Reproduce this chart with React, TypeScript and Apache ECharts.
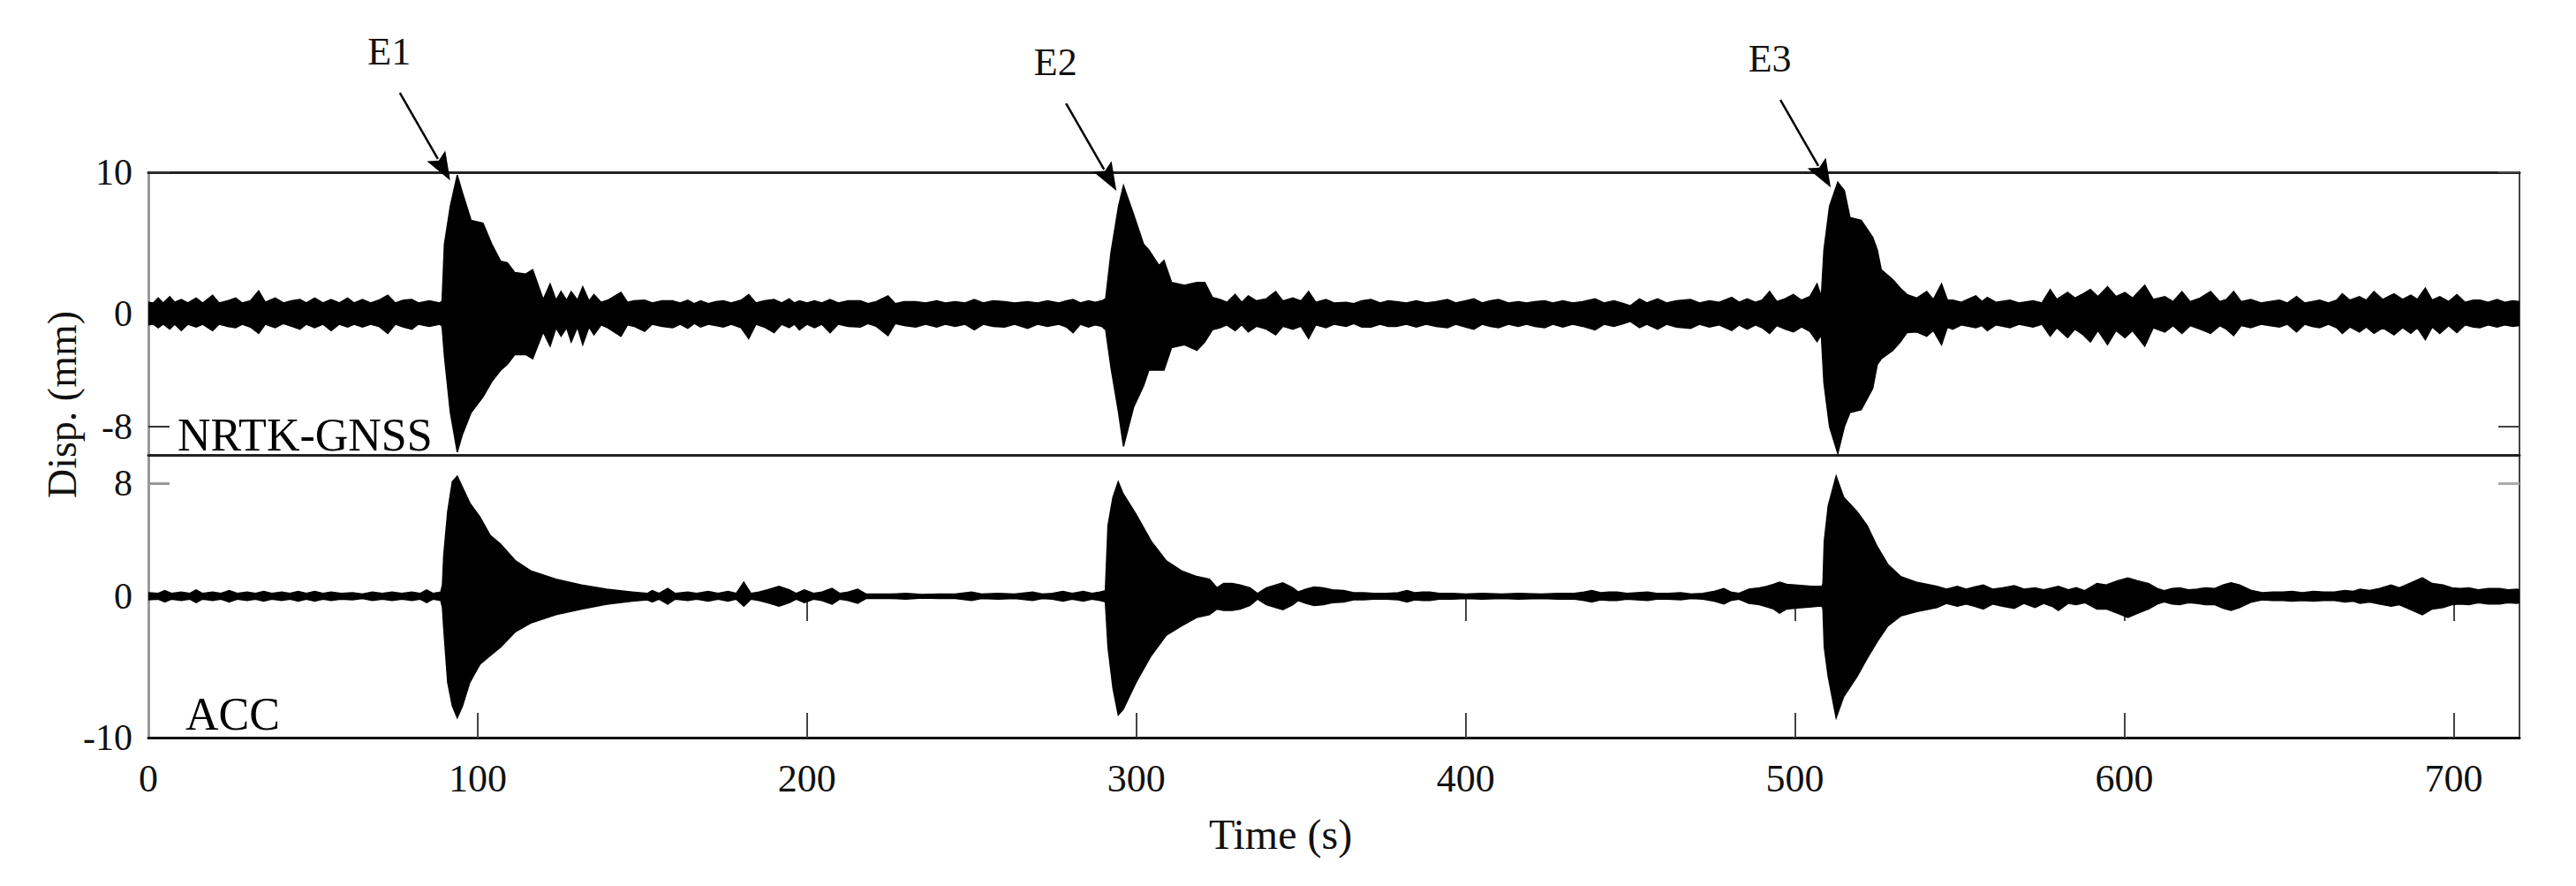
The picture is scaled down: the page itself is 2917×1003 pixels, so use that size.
import React, { useEffect, useRef } from 'react';
import * as echarts from 'echarts';

const W = 2917;
const H = 1003;

// Envelope of the NRTK-GNSS displacement record: [time (s), upper (mm), lower (mm)]
const gnssEnvelope: [number, number, number][] = [
  [0, 0.8, -0.8], [1.5, 0.75, -0.75], [3, 1.1, -1.0], [4.5, 0.75, -0.75], [6.5, 1.2, -1.1], [8, 0.8, -0.75],
  [10, 1.0, -1.2], [12, 0.75, -0.75], [14.5, 1.1, -0.95], [16.5, 0.75, -0.75], [19.5, 1.3, -1.2], [21.5, 0.75, -0.75],
  [24, 0.9, -0.9], [26.5, 1.1, -1.0], [28.5, 0.75, -0.75], [31, 0.9, -0.95], [33.5, 1.6, -1.4], [35.5, 0.8, -0.75],
  [38.5, 1.1, -1.0], [41, 0.75, -0.7], [43.5, 0.9, -0.9], [46, 1.0, -1.1], [48, 0.75, -0.75], [50.5, 1.1, -1.0],
  [53, 0.75, -0.75], [55.5, 1.0, -1.2], [58, 0.75, -0.75], [60.5, 1.1, -0.95], [62.5, 0.75, -0.75], [65, 1.0, -0.95],
  [67.5, 0.75, -0.75], [70, 0.95, -0.9], [72.7, 1.3, -1.4], [75, 0.75, -0.75], [77.5, 0.95, -0.95], [80, 1.0, -1.1],
  [82, 0.75, -0.75], [85.3, 0.9, -0.9], [88.5, 0.75, -0.75],
  // E1
  [89.2, 0.9, -0.9], [89.9, 4.9, -3.0], [91.7, 7.6, -7.0], [93.8, 9.8, -9.8], [95.3, 8.6, -8.6], [98, 6.6, -7.0],
  [101.6, 6.4, -5.9], [104.3, 4.9, -4.8], [107, 3.7, -4.0], [109, 3.6, -3.6], [111.3, 2.9, -2.9], [114.6, 2.8, -2.9],
  [116.7, 3.1, -3.2], [119.9, 1.0, -1.3], [122, 2.1, -2.3],
  [123.8, 0.95, -1.0], [125.3, 1.56, -1.6], [127, 0.95, -1.0], [128.4, 1.56, -2.0], [130.3, 0.95, -0.95], [131.9, 1.9, -2.2],
  [133.8, 0.9, -0.95], [135.3, 1.35, -1.5], [137.5, 0.8, -0.8], [139.5, 0.95, -1.0], [143.5, 1.5, -1.6], [145.5, 0.8, -0.8],
  [147.5, 0.9, -0.9], [150.7, 0.95, -1.25], [153, 0.75, -0.75], [156, 0.9, -0.9], [159.2, 0.9, -1.0], [161.5, 0.75, -0.75],
  [163.8, 0.95, -1.04], [165.8, 0.7, -0.7], [167.7, 0.9, -0.95], [170, 0.7, -0.75], [172.3, 0.85, -0.85], [174.6, 0.9, -0.95],
  [177, 0.75, -0.75], [180, 0.95, -1.0], [182.3, 1.35, -1.77], [184.5, 0.75, -0.75], [187, 0.9, -0.95], [190, 1.0, -1.35],
  [192.3, 0.75, -0.75], [194.6, 1.04, -1.0], [196.2, 0.75, -0.75], [197.7, 0.9, -1.15], [200, 0.75, -0.75], [202.3, 0.9, -1.0],
  [204.5, 0.75, -0.75], [207, 1.0, -1.35], [209.5, 0.75, -0.75], [212.5, 0.9, -0.9], [216.2, 0.9, -0.95], [218.5, 0.7, -0.7],
  [221, 0.85, -0.9], [224.6, 1.25, -1.56], [226.8, 0.7, -0.7], [229.5, 0.85, -0.85], [233, 0.85, -0.95], [236, 0.75, -0.75],
  [239.4, 0.9, -0.95], [242, 0.75, -0.75], [245, 0.85, -0.9], [248, 0.75, -0.75], [250.8, 1.0, -1.15], [253.5, 0.75, -0.75],
  [256.5, 0.9, -0.9], [260, 0.85, -0.95], [263, 0.75, -0.75], [267, 0.85, -1.04], [270, 0.75, -0.75], [273, 0.9, -0.9],
  [276.5, 0.75, -0.75], [278.8, 0.9, -0.95], [280.8, 1.0, -1.35], [283, 0.75, -0.75], [285.5, 0.9, -0.95], [287.5, 0.8, -0.8],
  [289.5, 0.9, -0.9],
  // E2
  [290.7, 1.05, -1.15], [292.3, 4.3, -3.8], [294.6, 7.6, -7.0], [296.1, 9.06, -9.4], [299.2, 7.0, -6.6], [302.2, 4.9, -5.1],
  [303.8, 4.5, -4.0], [306.9, 3.4, -4.0], [308.4, 3.75, -4.0], [310.7, 2.2, -2.4], [314.6, 2.0, -2.2], [318.4, 2.2, -2.6],
  [320.8, 2.2, -2.0], [323.1, 1.15, -1.15], [325.4, 1.0, -1.0],
  [327.5, 0.8, -0.8], [330, 1.35, -1.2], [332, 0.8, -0.8], [334, 1.25, -1.3], [336.5, 0.9, -0.9], [339.5, 1.05, -1.1],
  [342.3, 1.56, -1.5], [344.5, 0.9, -0.9], [347.5, 1.1, -1.1], [350, 0.9, -0.9], [352.3, 1.56, -1.77], [354.5, 0.8, -0.8],
  [357.6, 1.0, -1.0], [360, 0.75, -0.75], [363.7, 0.8, -0.9], [366, 0.7, -0.7], [368.5, 0.9, -0.95], [371.3, 1.0, -0.95],
  [374, 0.75, -0.75], [376.5, 0.9, -0.9], [379, 0.85, -0.9], [382, 0.75, -0.75], [385, 0.9, -0.95], [388, 0.75, -0.75],
  [391, 0.85, -0.9], [394.5, 1.0, -1.0], [397, 0.75, -0.75], [400, 0.9, -0.95], [402.5, 1.04, -1.1], [405, 0.75, -0.75],
  [407.5, 0.9, -0.9], [410, 1.0, -1.0], [413, 0.75, -0.75], [416, 0.85, -0.9], [418.5, 0.75, -0.75], [421, 0.85, -0.9],
  [424, 0.9, -1.0], [426.5, 0.75, -0.75], [429.5, 0.9, -0.95], [432.5, 0.75, -0.75], [435.5, 0.85, -0.9], [439.3, 1.04, -1.15],
  [442, 0.75, -0.75], [445, 0.9, -0.9], [448, 0.7, -0.7], [450, 0.55, -0.55], [452.8, 1.04, -1.0], [455, 0.75, -0.75],
  [458.3, 1.04, -1.1], [461, 0.75, -0.75], [464, 0.9, -0.95], [468.3, 1.0, -1.05], [471, 0.75, -0.75], [474, 0.9, -0.95],
  [477, 0.8, -0.8], [480.8, 1.15, -1.2], [483, 0.8, -0.8], [485.5, 1.04, -1.1], [488, 0.8, -0.8], [490, 0.95, -1.0],
  [492.3, 1.56, -1.4], [494.5, 0.85, -0.85], [497, 1.05, -1.1], [499.5, 1.35, -1.3], [502, 0.95, -0.95], [504.5, 1.2, -1.25],
  [506.7, 2.1, -1.98],
  // E3
  [508, 1.2, -1.5], [508.8, 4.5, -4.9], [510.5, 7.6, -8.0], [513, 9.3, -9.9], [515, 8.7, -8.0], [516.7, 6.8, -7.0],
  [520.1, 6.6, -6.8], [523.6, 5.4, -5.3], [525, 4.5, -3.6], [526.2, 3.1, -3.2], [529.7, 2.4, -2.6], [532, 1.8, -2.0],
  [534, 1.35, -1.35], [537, 1.1, -1.3], [540, 1.56, -1.6], [542, 1.0, -1.2], [544.5, 2.1, -2.2], [546.3, 0.95, -0.95],
  [547.9, 0.95, -1.1], [550.5, 0.8, -0.8], [554.9, 1.25, -1.0], [556.8, 0.85, -0.85], [558.4, 1.15, -1.2], [561, 0.8, -0.8],
  [565.3, 0.95, -1.0], [568, 0.75, -0.75], [572.3, 0.9, -0.95], [575, 0.75, -0.75], [577.5, 1.7, -1.6], [579.5, 1.0, -1.0],
  [582.8, 1.5, -1.7], [585, 1.1, -1.1], [587.5, 1.4, -1.5], [589.7, 1.7, -2.0], [592, 1.2, -1.2], [594.9, 1.9, -2.2],
  [597.5, 1.2, -1.2], [600.2, 1.5, -1.7], [602.5, 1.1, -1.2], [606.2, 2.0, -2.3], [608.8, 1.0, -1.0], [612.3, 1.2, -1.3],
  [614.8, 0.85, -0.85], [617.5, 1.56, -1.4], [620, 0.85, -0.85], [623, 1.1, -1.1], [626.2, 1.56, -1.4], [629, 0.85, -0.85],
  [631, 1.0, -1.1], [633.2, 1.56, -1.56], [635.5, 0.85, -0.85], [638.4, 1.0, -1.0], [641.5, 0.75, -0.75], [644, 0.85, -0.85],
  [647.1, 0.95, -0.95], [649.5, 0.75, -0.75], [652.3, 1.2, -1.3], [654.8, 0.75, -0.75], [657, 0.85, -0.9], [659.3, 0.95, -1.0],
  [662, 0.75, -0.75], [664.5, 0.95, -1.0], [666.2, 1.4, -1.4], [668.5, 0.95, -0.95], [671.4, 1.2, -1.3], [673.5, 0.95, -0.95],
  [675.8, 1.56, -1.4], [678.5, 1.0, -1.0], [681.9, 1.4, -1.5], [684.5, 1.0, -1.0], [687, 1.3, -1.4], [689, 1.0, -1.0],
  [691.4, 1.8, -1.85], [693.5, 0.95, -0.95], [695.8, 1.2, -1.4], [698.5, 0.85, -0.85], [701, 1.35, -1.35], [703.5, 0.8, -0.8],
  [706, 0.95, -0.95], [708, 0.95, -1.0], [710.5, 0.8, -0.8], [713.2, 1.0, -0.95], [715.5, 0.8, -0.8], [718, 0.9, -0.9],
  [720, 0.85, -0.85],
];

// Envelope of the accelerometer-derived displacement record: [time (s), upper (mm), lower (mm)]
const accEnvelope: [number, number, number][] = [
  [0, 0.25, -0.25], [3, 0.2, -0.2], [5, 0.4, -0.4], [7, 0.2, -0.2], [10, 0.3, -0.3], [12.5, 0.2, -0.2],
  [14.5, 0.45, -0.45], [16.5, 0.2, -0.2], [19.5, 0.3, -0.3], [22, 0.2, -0.2], [24.5, 0.4, -0.4], [27, 0.2, -0.2],
  [30, 0.3, -0.3], [32.5, 0.2, -0.2], [35, 0.35, -0.35], [37.5, 0.2, -0.2], [40.5, 0.3, -0.3], [43, 0.2, -0.2],
  [45.5, 0.35, -0.35], [48, 0.2, -0.2], [50.5, 0.35, -0.35], [53, 0.2, -0.2], [55.5, 0.3, -0.3], [58.5, 0.2, -0.2],
  [62, 0.25, -0.25], [65, 0.15, -0.15], [68, 0.3, -0.3], [71, 0.2, -0.2], [74, 0.3, -0.3], [77, 0.2, -0.2],
  [80, 0.3, -0.3], [82.5, 0.2, -0.2], [84.5, 0.45, -0.45], [86.5, 0.2, -0.2], [88.8, 0.3, -0.3],
  // E1
  [89.3, 0.8, -0.8], [89.7, 2.9, -2.3], [90.9, 6.0, -6.1], [92.3, 8.1, -7.75], [93.8, 8.5, -8.6], [95.4, 7.7, -7.75],
  [97.6, 6.6, -6.1], [100.7, 5.6, -4.8], [103.8, 4.3, -4.2], [106.9, 3.7, -3.6], [111.5, 2.5, -2.5], [116.1, 1.8, -1.9],
  [123.8, 1.2, -1.3], [131.5, 0.8, -0.9], [139.2, 0.5, -0.56], [146.9, 0.3, -0.35], [151.5, 0.2, -0.25],
  [153, 0.4, -0.4], [155, 0.2, -0.2], [157.7, 0.55, -0.55], [160, 0.2, -0.2], [163.8, 0.3, -0.3], [166.5, 0.2, -0.2],
  [170, 0.35, -0.35], [173, 0.2, -0.2], [176, 0.35, -0.35], [178.5, 0.2, -0.2], [180.8, 1.0, -0.7], [183, 0.2, -0.2],
  [185.4, 0.3, -0.3], [188, 0.45, -0.45], [191.5, 0.7, -0.7], [194.6, 0.45, -0.45], [196.8, 0.2, -0.2], [199.2, 0.45, -0.45],
  [202, 0.2, -0.2], [204.5, 0.3, -0.3], [207.6, 0.55, -0.55], [210, 0.2, -0.2], [212.5, 0.3, -0.3], [215.4, 0.5, -0.5],
  [218, 0.15, -0.15], [225, 0.15, -0.15], [230, 0.2, -0.2], [235, 0.12, -0.12], [240, 0.15, -0.15], [245, 0.15, -0.15],
  [250, 0.3, -0.3], [253, 0.15, -0.15], [258, 0.2, -0.2], [263, 0.15, -0.15], [268.5, 0.3, -0.3], [271.5, 0.15, -0.15],
  [274.5, 0.2, -0.2], [277.7, 0.35, -0.35], [280.5, 0.2, -0.2], [283.9, 0.35, -0.35], [286.5, 0.2, -0.2], [289, 0.3, -0.3],
  [290.6, 0.4, -0.4],
  // E2
  [291.4, 5.0, -3.6], [292.9, 7.0, -6.5], [294.5, 8.1, -8.4], [296, 7.25, -8.0], [299.9, 5.8, -6.1], [304.5, 3.9, -4.2],
  [309.1, 2.5, -2.75], [313.7, 1.8, -2.1], [318.3, 1.4, -1.5], [322.2, 1.2, -1.3], [324.5, 0.6, -0.9], [326.5, 0.9, -1.0],
  [329.1, 0.9, -1.0], [331.5, 0.8, -0.9], [334.5, 0.6, -0.65], [336.8, 0.2, -0.2], [339.5, 0.6, -0.6], [344.5, 0.95, -0.95],
  [347.5, 0.6, -0.6], [349.1, 0.3, -0.3], [351.5, 0.5, -0.5], [354, 0.65, -0.65], [356.8, 0.6, -0.6], [359.5, 0.45, -0.45],
  [363, 0.4, -0.4], [366, 0.25, -0.25], [369, 0.25, -0.25], [372, 0.2, -0.2], [376, 0.2, -0.2], [379.5, 0.25, -0.25],
  [382.2, 0.4, -0.4], [384.5, 0.25, -0.25], [387, 0.3, -0.3], [389.1, 0.3, -0.3], [392, 0.2, -0.2], [396, 0.2, -0.2],
  [400, 0.15, -0.15], [405, 0.2, -0.2], [411, 0.15, -0.15], [416, 0.2, -0.2], [423, 0.15, -0.15], [428, 0.2, -0.2],
  [433, 0.2, -0.2], [436, 0.3, -0.3], [438.3, 0.4, -0.4], [441, 0.25, -0.25], [443.5, 0.3, -0.3], [446, 0.3, -0.3],
  [449, 0.2, -0.2], [452, 0.25, -0.25], [455.3, 0.3, -0.3], [458, 0.2, -0.2], [461.5, 0.2, -0.2], [465.3, 0.25, -0.25],
  [468.5, 0.15, -0.15], [472, 0.2, -0.2], [475.5, 0.35, -0.35], [478.4, 0.55, -0.55], [480.5, 0.3, -0.3], [483, 0.2, -0.2],
  [486, 0.5, -0.5], [489.2, 0.6, -0.6], [491.5, 0.7, -0.75], [493.5, 0.85, -0.9], [495.3, 1.0, -1.2], [497.5, 0.85, -0.9],
  [500, 0.8, -0.85], [502.5, 0.75, -0.8], [505, 0.7, -0.75], [507, 0.7, -0.7], [508.2, 0.7, -0.7],
  // E3
  [508.5, 0.9, -0.9], [508.9, 3.9, -3.6], [510.1, 6.4, -5.7], [512.5, 8.5, -8.6], [514.8, 7.0, -7.1], [518.8, 6.0, -5.7],
  [521.9, 5.0, -4.4], [525, 3.5, -3.2], [528.2, 2.25, -2.1], [532.1, 1.4, -1.4], [536.8, 1.0, -1.1], [543.1, 0.7, -0.8],
  [546, 0.5, -0.5], [549.3, 0.7, -0.7], [552, 0.5, -0.55], [554.5, 0.65, -0.7], [557.2, 0.8, -0.9], [560, 0.5, -0.55],
  [563, 0.6, -0.7], [566.6, 0.75, -0.85], [569.5, 0.5, -0.5], [572.9, 0.6, -0.8], [575.5, 0.45, -0.5], [578, 0.6, -0.7],
  [580, 0.7, -1.0], [583, 0.45, -0.5], [585.4, 0.6, -0.6], [588, 0.4, -0.45], [591.7, 0.9, -0.9], [594.5, 0.8, -0.9],
  [598, 1.1, -1.2], [601.1, 1.3, -1.5], [604, 1.1, -1.2], [607.4, 0.9, -0.9], [610, 0.55, -0.55], [612.1, 0.4, -0.4],
  [614.5, 0.55, -0.55], [616.8, 0.6, -0.6], [619.5, 0.45, -0.45], [622, 0.5, -0.5], [624.6, 0.6, -0.6], [627.5, 0.55, -0.6],
  [630, 0.8, -0.85], [632.4, 0.95, -1.0], [635, 0.8, -0.8], [638.7, 0.4, -0.4], [641.9, 0.25, -0.25], [645, 0.3, -0.3],
  [648.1, 0.3, -0.3], [651, 0.35, -0.35], [654, 0.25, -0.3], [657.5, 0.35, -0.35], [660.5, 0.3, -0.3], [663.8, 0.3, -0.3],
  [667, 0.4, -0.4], [669.5, 0.35, -0.35], [671.6, 0.5, -0.5], [674.5, 0.4, -0.4], [677.5, 0.55, -0.55], [681, 0.8, -0.7],
  [683.5, 0.6, -0.6], [686.5, 0.9, -0.9], [690.5, 1.3, -1.3], [693.5, 0.9, -0.9], [696.8, 0.8, -0.8], [699.5, 0.6, -0.6],
  [702, 0.55, -0.55], [704.6, 0.6, -0.6], [707.5, 0.45, -0.45], [710.5, 0.55, -0.55], [714, 0.55, -0.55], [716.5, 0.45, -0.45],
  [719.3, 0.5, -0.5], [720, 0.45, -0.45],
];

const xLabelValues = [0, 100, 200, 300, 400, 500, 600, 700];
const xTickValues = [100, 200, 300, 400, 500, 600, 700];
const gnssYLabels = [-8, 0, 10];
const accYLabels = [-10, 0, 8];

const eventLabels = ['E1', 'E2', 'E3'];
const eventTimes = [93.8, 296.1, 513];
const eventPeaks = [9.8, 9.06, 9.3];

const FONT = "'Liberation Serif', 'Times New Roman', serif";

function bandSeries(env: [number, number, number][], axisIndex: number, name: string) {
  return {
    type: 'custom',
    name,
    coordinateSystem: 'cartesian2d',
    xAxisIndex: axisIndex,
    yAxisIndex: axisIndex,
    data: [[0, 0]],
    silent: true,
    clip: true,
    z: 3,
    renderItem: (_params: any, api: any) => {
      const upper = env.map((p) => api.coord([p[0], p[1]]));
      const lower = env.slice().reverse().map((p) => api.coord([p[0], p[2]]));
      return {
        type: 'polygon',
        shape: { points: upper.concat(lower) },
        style: { fill: '#000', stroke: '#000', lineWidth: 1.5, lineJoin: 'miter' },
      };
    },
  };
}

const GRID_LEFT = 168;
const GRID_RIGHT = W - 2853;

export default function App() {
  const ref = useRef<HTMLDivElement>(null);
  useEffect(() => {
    const chart = echarts.init(ref.current!, undefined, { renderer: 'svg', width: W, height: H });
    const hidden = { show: false };
    const option: any = {
      animation: false,
      backgroundColor: '#fff',
      grid: [
        { left: GRID_LEFT, right: GRID_RIGHT, top: 195, height: 320 },
        { left: GRID_LEFT, right: GRID_RIGHT, top: 515, height: 320 },
      ],
      xAxis: [
        {
          type: 'value', gridIndex: 0, position: 'bottom', min: 0, max: 720,
          axisLine: { show: true, onZero: false, lineStyle: { color: '#222', width: 3 } },
          axisTick: hidden, axisLabel: hidden, splitLine: hidden,
        },
        {
          type: 'value', gridIndex: 1, position: 'bottom', min: 0, max: 720,
          axisLine: { show: true, onZero: false, lineStyle: { color: '#111', width: 3 } },
          axisTick: { show: true, inside: true, length: 28, customValues: xTickValues, lineStyle: { color: '#444', width: 2 } },
          axisLabel: { show: true, customValues: xLabelValues, margin: 24, fontFamily: FONT, fontSize: 44, color: '#111' },
          splitLine: hidden,
        },
        {
          type: 'value', gridIndex: 0, position: 'top', min: 0, max: 720,
          axisLine: { show: true, onZero: false, lineStyle: { color: '#222', width: 3 } },
          axisTick: hidden, axisLabel: hidden, splitLine: hidden,
        },
        {
          type: 'value', gridIndex: 1, position: 'top', min: 0, max: 720,
          axisLine: { show: false },
          axisTick: { show: true, inside: true, length: 28, customValues: xTickValues, lineStyle: { color: '#444', width: 2 } },
          axisLabel: hidden, splitLine: hidden,
        },
      ],
      yAxis: [
        {
          type: 'value', gridIndex: 0, position: 'left', min: -10, max: 10,
          axisLine: { show: true, onZero: false, lineStyle: { color: '#999', width: 3 } },
          axisTick: { show: true, inside: true, length: 24, customValues: gnssYLabels, lineStyle: { color: '#333', width: 2 } },
          axisLabel: { show: true, customValues: gnssYLabels, margin: 18, fontFamily: FONT, fontSize: 42, color: '#111' },
          splitLine: hidden,
        },
        {
          type: 'value', gridIndex: 1, position: 'left', min: -10, max: 10,
          axisLine: { show: true, onZero: false, lineStyle: { color: '#999', width: 3 } },
          axisTick: { show: true, inside: true, length: 24, customValues: [8], lineStyle: { color: '#999', width: 3 } },
          axisLabel: { show: true, customValues: accYLabels, margin: 18, fontFamily: FONT, fontSize: 42, color: '#111' },
          splitLine: hidden,
        },
        {
          type: 'value', gridIndex: 0, position: 'right', min: -10, max: 10,
          axisLine: { show: true, onZero: false, lineStyle: { color: '#444', width: 2 } },
          axisTick: { show: true, inside: true, length: 24, customValues: [-8, 10], lineStyle: { color: '#444', width: 2 } },
          axisLabel: hidden, splitLine: hidden,
        },
        {
          type: 'value', gridIndex: 1, position: 'right', min: -10, max: 10,
          axisLine: { show: true, onZero: false, lineStyle: { color: '#444', width: 2 } },
          axisTick: { show: true, inside: true, length: 24, customValues: [8], lineStyle: { color: '#aaa', width: 3 } },
          axisLabel: hidden, splitLine: hidden,
        },
      ],
      series: [bandSeries(gnssEnvelope, 0, 'NRTK-GNSS'), bandSeries(accEnvelope, 1, 'ACC')],
    };
    chart.setOption(option);

    const graphics: any[] = [
      {
        type: 'text', x: 201, y: 492, silent: true,
        style: { text: 'NRTK-GNSS', fontFamily: FONT, fontSize: 52, fill: '#000', verticalAlign: 'middle', align: 'left' },
        z: 10,
      },
      {
        type: 'text', x: 210, y: 808, silent: true,
        style: { text: 'ACC', fontFamily: FONT, fontSize: 52, fill: '#000', verticalAlign: 'middle', align: 'left' },
        z: 10,
      },
      {
        type: 'text', x: 70, y: 458, rotation: Math.PI / 2, silent: true,
        style: { text: 'Disp. (mm)', fontFamily: FONT, fontSize: 46, fill: '#111', verticalAlign: 'middle', align: 'center' },
      },
      {
        type: 'text', x: 1450, y: 944, silent: true,
        style: { text: 'Time (s)', fontFamily: FONT, fontSize: 48, fill: '#111', verticalAlign: 'middle', align: 'center' },
      },
    ];

    eventLabels.forEach((label, i) => {
      const p = chart.convertToPixel({ seriesIndex: 0 }, [eventTimes[i], eventPeaks[i]]) as number[];
      const tip = [p[0] - 8, p[1] + 6];
      const start = [tip[0] - 57, tip[1] - 99];
      const dx = tip[0] - start[0];
      const dy = tip[1] - start[1];
      const len = Math.sqrt(dx * dx + dy * dy);
      const ux = dx / len;
      const uy = dy / len;
      const L = 32;
      const hw = 12;
      const base = [tip[0] - ux * L, tip[1] - uy * L];
      graphics.push({
        type: 'line', silent: true, z: 12,
        shape: { x1: start[0], y1: start[1], x2: base[0] + ux * 4, y2: base[1] + uy * 4 },
        style: { stroke: '#000', lineWidth: 2.5 },
      });
      graphics.push({
        type: 'polygon', silent: true, z: 12,
        shape: {
          points: [
            [tip[0], tip[1]],
            [base[0] - uy * hw, base[1] + ux * hw],
            [base[0] + ux * 6, base[1] + uy * 6],
            [base[0] + uy * hw, base[1] - ux * hw],
          ],
        },
        style: { fill: '#000' },
      });
      graphics.push({
        type: 'text', x: start[0] - 12, y: start[1] - 47, silent: true,
        style: { text: label, fontFamily: FONT, fontSize: 44, fill: '#111', verticalAlign: 'middle', align: 'center' },
      });
    });

    chart.setOption({ graphic: graphics });
    return () => chart.dispose();
  }, []);
  return (
    <div
      ref={ref}
      style={{ position: 'fixed', left: 0, top: 0, width: W, height: H, background: '#fff' }}
    />
  );
}
